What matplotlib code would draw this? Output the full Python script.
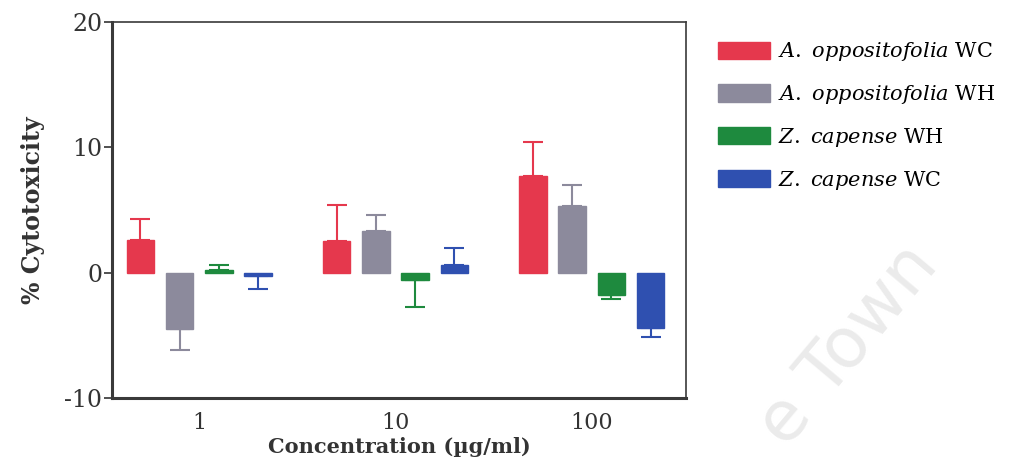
import numpy as np
import matplotlib
matplotlib.use('Agg')
import matplotlib.pyplot as plt
from matplotlib.patches import Patch
from matplotlib.ticker import FuncFormatter

# concentrations (ug/ml)
concentrations = ['1', '10', '100']
series_names = [('A. oppositofolia', 'WC'), ('A. oppositofolia', 'WH'),
                ('Z. capense', 'WH'), ('Z. capense', 'WC')]
ao_wc = [2.6, 2.5, 7.7]
ao_wh = [-4.5, 3.3, 5.3]
zc_wh = [0.2, -0.6, -1.8]
zc_wc = [-0.3, 0.6, -4.4]
# error (one-sided, drawn away from zero)
ao_wc_err = [1.7, 2.9, 2.7]
ao_wh_err = [1.7, 1.3, 1.7]
zc_wh_err = [0.4, 2.1, 0.3]
zc_wc_err = [1.0, 1.4, 0.7]

colors = ['#e5384d', '#8c8a9c', '#1e8a3e', '#2f50b0']
values = [ao_wc, ao_wh, zc_wh, zc_wc]
errors = [ao_wc_err, ao_wh_err, zc_wh_err, zc_wc_err]

plt.rcParams['font.family'] = ['DejaVu Serif']
plt.rcParams['mathtext.fontset'] = 'dejavuserif'

fig = plt.figure(figsize=(10.28, 4.76), dpi=100)

# faint watermark
fig.text(0.825, 0.275, 'e Town', fontsize=50, color='#ebebeb', rotation=50,
         ha='center', va='center', family='DejaVu Sans', zorder=0)

ax = fig.add_axes([112 / 1028, 78 / 476, 574 / 1028, 376 / 476])
ax.patch.set_alpha(0)

x = np.arange(len(concentrations))
offsets = [-0.3, -0.1, 0.1, 0.3]
for vals, errs, col, off in zip(values, errors, colors, offsets):
    vals = np.array(vals)
    errs = np.array(errs)
    lower = np.where(vals < 0, errs, 0)
    upper = np.where(vals >= 0, errs, 0)
    ax.bar(x + off, vals, width=0.14, color=col, edgecolor=col, zorder=2)
    ax.errorbar(x + off, vals, yerr=[lower, upper], fmt='none', ecolor=col,
                elinewidth=1.5, capsize=7, capthick=1.5, zorder=1)

ax.set_xlim(-0.445, 2.48)
ax.set_ylim(-10, 20)
ax.set_yticks([-10, 0, 10, 20])
ax.yaxis.set_major_formatter(FuncFormatter(lambda v, p: '%d' % v))
ax.set_xticks(x)
ax.set_xticklabels(concentrations)
ax.tick_params(axis='y', length=6, width=1.2, labelsize=17, colors='#333333', pad=1)
ax.tick_params(axis='x', length=0, labelsize=16, colors='#333333', pad=10)
ax.spines['left'].set_linewidth(2.2)
ax.spines['bottom'].set_linewidth(2.2)
ax.spines['top'].set_linewidth(1.2)
ax.spines['right'].set_linewidth(1.2)
for s in ax.spines.values():
    s.set_color('#3a3a3a')

ax.set_ylabel('% Cytotoxicity', fontsize=17, fontweight='bold', color='#333333', labelpad=14)
ax.set_xlabel('Concentration (\u00b5g/ml)', fontsize=15, fontweight='bold', color='#333333', labelpad=2)

# legend mixes italic species and upright suffix
handles = [Patch(facecolor=c, edgecolor=c) for c in colors]
labels = [r'$\it{' + sp.replace(' ', r'\ ') + '}$ ' + suf for sp, suf in series_names]
fig.legend(handles, labels, loc='upper left', bbox_to_anchor=(710 / 1028, 1 - 32 / 476),
           frameon=False, fontsize=15, handlelength=2.5, handleheight=0.9,
           labelspacing=0.95, handletextpad=0.35, borderaxespad=0)

fig.savefig('out.png', dpi=100)
